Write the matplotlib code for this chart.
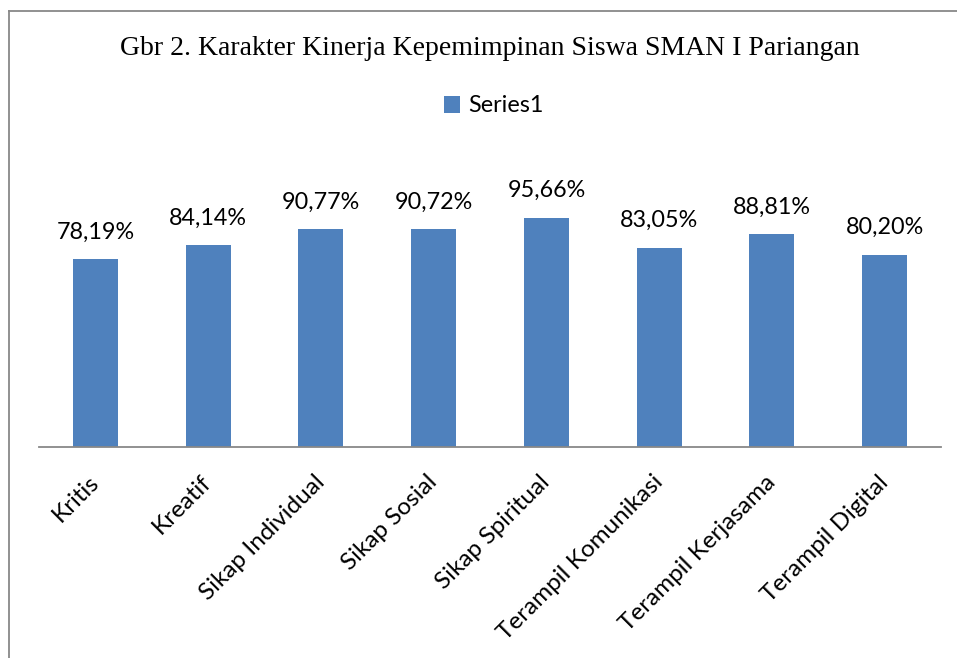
import matplotlib
matplotlib.use("Agg")
import matplotlib.pyplot as plt
import numpy as np
from matplotlib.lines import Line2D

CATEGORIES = ["Kritis", "Kreatif", "Sikap Individual", "Sikap Sosial",
              "Sikap Spiritual", "Terampil Komunikasi", "Terampil Kerjasama",
              "Terampil Digital"]
VALUES = [78.19, 84.14, 90.77, 90.72, 95.66, 83.05, 88.81, 80.20]
SERIES = "Series1"
TITLE = "Gbr 2. Karakter Kinerja Kepemimpinan Siswa SMAN I Pariangan"

BAR_COLOR = "#4F81BD"
SANS = ["Lato", "DejaVu Sans"]


def main() -> None:
    fig = plt.figure(figsize=(9.57, 6.58), dpi=100)
    ax = fig.add_axes([0.0408, 0.3207, 0.9425, 0.4373])

    x = np.arange(len(CATEGORIES))
    bars = ax.bar(x, VALUES, width=0.4, color=BAR_COLOR, label=SERIES, zorder=2)
    ax.set_xlim(-0.5, len(CATEGORIES) - 0.5)
    ax.set_ylim(0, 120)

    for b, v in zip(bars, VALUES):
        ax.annotate(f"{v:.2f}%".replace(".", ","),
                    (b.get_x() + b.get_width() / 2, b.get_height()),
                    xytext=(0, 12), textcoords="offset points",
                    ha="center", va="bottom", fontsize=16.8, family=SANS)

    for s in ["top", "left", "right"]:
        ax.spines[s].set_visible(False)
    ax.spines["bottom"].set_color("#888888")
    ax.spines["bottom"].set_linewidth(1.3)
    ax.set_yticks([])
    ax.set_xticks(x)
    ax.set_xticklabels(CATEGORIES, rotation=45, ha="right", va="center",
                       rotation_mode="anchor", fontsize=17.5, family=SANS)
    ax.tick_params(axis="x", length=0, pad=23)

    fig.text(0.512, 0.926, TITLE, ha="center", va="center",
             fontsize=20, family="Liberation Serif")
    fig.legend(handles=[bars], labels=[SERIES], loc="center",
               bbox_to_anchor=(0.516, 0.839), frameon=False,
               prop={"family": SANS, "size": 16.8}, handlelength=0.72,
               handleheight=0.72, handletextpad=0.35)

    # outer frame (top and left edges visible in the cropped reference)
    fig.add_artist(Line2D([0.0099, 1.0], [0.983, 0.983], color="#888888",
                          lw=1.3, transform=fig.transFigure))
    fig.add_artist(Line2D([0.0099, 0.0099], [0.0, 0.983], color="#888888",
                          lw=1.3, transform=fig.transFigure))

    fig.savefig("out.png", dpi=100)
    plt.close(fig)


if __name__ == "__main__":
    main()
